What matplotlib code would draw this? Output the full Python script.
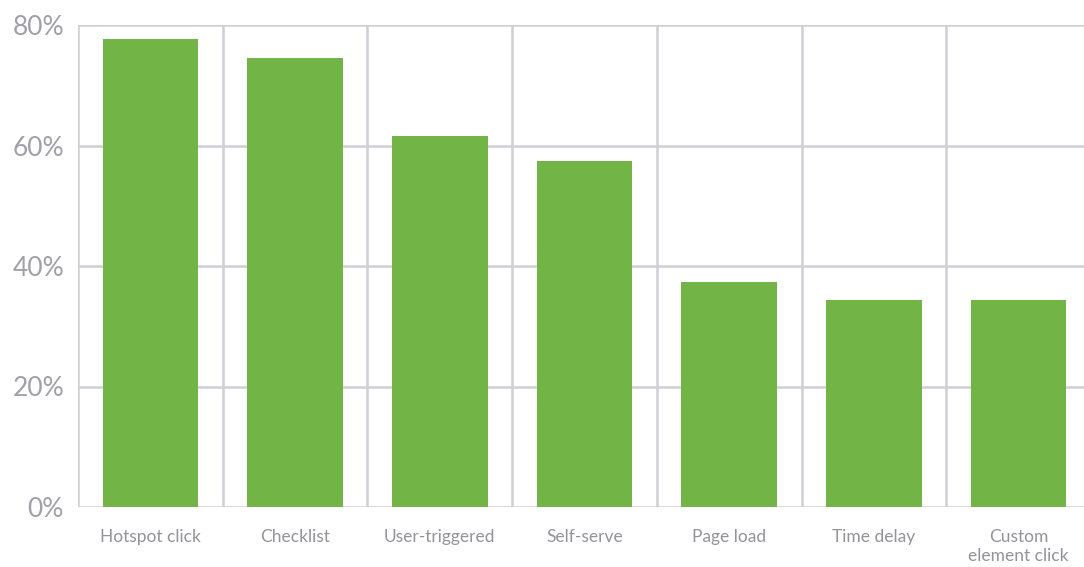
import matplotlib
matplotlib.use("Agg")
import matplotlib.pyplot as plt
import numpy as np

categories = ["Hotspot click", "Checklist", "User-triggered", "Self-serve",
              "Page load", "Time delay", "Custom\nelement click"]
values = [77.7, 74.5, 61.5, 57.5, 37.4, 34.4, 34.4]
yticks = [0, 20, 40, 60, 80]

plt.rcParams['font.family'] = ['Lato', 'DejaVu Sans']

fig = plt.figure(figsize=(10.84, 5.67), dpi=100)
ax = fig.add_axes([78 / 1084, 60 / 567, 1013 / 1084, 482 / 567])

grid_c = '#d0cfd7'
x = np.arange(len(categories))

# horizontal grid
for t in yticks:
    ax.axhline(t, color=grid_c, lw=1.8, zorder=1)
# category separators, incl. left edge
ax.vlines(np.arange(len(categories)) - 0.5, 0, 80, color=grid_c, lw=1.8, zorder=1)

ax.bar(x, values, width=0.66, color='#72b445', zorder=2)

ax.set_xlim(-0.5, len(categories) - 0.5)
ax.set_ylim(0, 80)
ax.set_yticks(yticks)
ax.set_yticklabels([f"{t}%" for t in yticks], fontsize=19, color='#a19fa8')
ax.set_xticks(x)
ax.set_xticklabels(categories, fontsize=12.5, color='#94929b',
                   va='top', linespacing=1.2)
ax.tick_params(axis='both', length=0)
ax.tick_params(axis='y', pad=10)
ax.tick_params(axis='x', pad=16)
for s in ax.spines.values():
    s.set_visible(False)

fig.savefig("out.png", dpi=100)
